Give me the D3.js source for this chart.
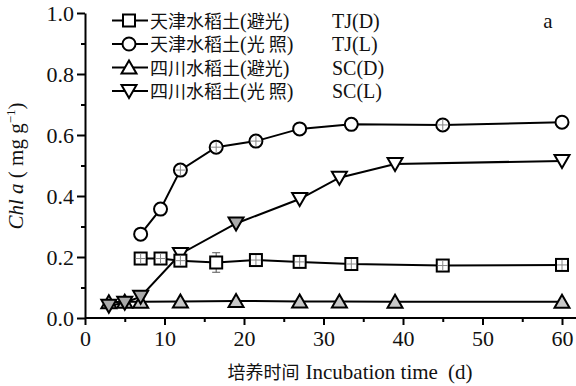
<!DOCTYPE html>
<html>
<head>
<meta charset="utf-8">
<script src="https://cdn.jsdelivr.net/npm/d3@7"></script>
<style>
  body { margin: 0; background: #fff; }
  svg { display: block; }
  text { font-family: "Liberation Serif", "DejaVu Serif", serif; }
</style>
</head>
<body>
<script>
// incubation days
var daysTJ = [7, 9.5, 12, 16.5, 21.5, 27, 33.5, 45, 60];
var daysSC = [3, 5, 7, 12, 19, 27, 32, 39, 60];

// Chl a (mg g-1)
var tjDark  = [0.195, 0.195, 0.188, 0.182, 0.19, 0.184, 0.177, 0.172, 0.174];
var tjLight = [0.275, 0.357, 0.485, 0.56, 0.58, 0.62, 0.635, 0.633, 0.642];
var scDark  = [0.052, 0.053, 0.053, 0.054, 0.056, 0.054, 0.054, 0.053, 0.053];
var scLight = [0.04, 0.05, 0.07, 0.21, 0.31, 0.39, 0.46, 0.505, 0.515];
var tjDarkErr = [0, 0, 0, 0.032, 0, 0, 0, 0, 0];

var legendCn = ["天津水稻土", "天津水稻土", "四川水稻土", "四川水稻土"];
var legendCond = ["避光", "光 照", "避光", "光 照"];
var legendAbbr = ["TJ(D)", "TJ(L)", "SC(D)", "SC(L)"];

var yTicks = [0, 0.2, 0.4, 0.6, 0.8, 1.0];
var yMinor = [0.1, 0.3, 0.5, 0.7, 0.9];
var xTicks = [0, 10, 20, 30, 40, 50, 60];
var xMinor = [5, 15, 25, 35, 45, 55];

var w = 576, h = 386;
var serif = "Liberation Serif, DejaVu Serif, serif";
var cjk = "Noto Sans CJK SC, sans-serif";

var svg = d3.select("body").append("svg")
  .attr("width", w)
  .attr("height", h);

var x = d3.scaleLinear().domain([0, 60]).range([85, 562]);
var y = d3.scaleLinear().domain([0, 1]).range([318, 13]);

// y axis
var yAxis = svg.append("g")
  .attr("transform", "translate(" + x(0) + ",0)")
  .call(d3.axisLeft(y).tickValues(yTicks).tickSize(8).tickSizeOuter(0).tickFormat(d3.format(".1f")));
svg.append("g")
  .attr("transform", "translate(" + x(0) + ",0)")
  .call(d3.axisLeft(y).tickValues(yMinor).tickSize(4).tickSizeOuter(0).tickFormat(""))
  .select(".domain").remove();

// x axis
var xAxis = svg.append("g")
  .attr("transform", "translate(0," + y(0) + ")")
  .call(d3.axisBottom(x).tickValues(xTicks).tickSize(7).tickSizeOuter(0).tickFormat(d3.format("d")));
xAxis.select(".domain").remove();
svg.append("g")
  .attr("transform", "translate(0," + y(0) + ")")
  .call(d3.axisBottom(x).tickValues(xMinor).tickSize(4).tickSizeOuter(0).tickFormat(""))
  .select(".domain").remove();
svg.append("line")
  .attr("x1", x(0)).attr("x2", w)
  .attr("y1", y(0)).attr("y2", y(0))
  .attr("stroke", "#000").attr("stroke-width", 2);

svg.selectAll("g").attr("font-family", serif);
svg.selectAll(".tick line").attr("stroke", "#000").attr("stroke-width", 2);
svg.selectAll(".domain").attr("stroke", "#000").attr("stroke-width", 2);
svg.selectAll(".tick text")
  .attr("font-family", serif)
  .attr("font-size", 22)
  .attr("fill", "#111");
yAxis.selectAll(".tick text").attr("x", -11);
xAxis.selectAll(".tick text").attr("y", 12);

// axis titles
var xTitle = svg.append("text")
  .attr("x", 350).attr("y", 379)
  .attr("text-anchor", "middle")
  .attr("font-family", serif)
  .attr("font-size", 21)
  .attr("fill", "#111");
xTitle.append("tspan").attr("font-family", cjk).attr("font-size", 18).text("培养时间");
xTitle.append("tspan").attr("dx", 6).text("Incubation time");
xTitle.append("tspan").attr("dx", 10).text("(d)");

var yTitle = svg.append("text")
  .attr("transform", "translate(23,166) rotate(-90)")
  .attr("text-anchor", "middle")
  .attr("font-family", serif)
  .attr("font-size", 21)
  .attr("fill", "#111");
yTitle.append("tspan").attr("font-style", "italic").text("Chl a");
yTitle.append("tspan").text(" ( mg g");
yTitle.append("tspan").attr("dy", -8).attr("font-size", 13).text("−1");
yTitle.append("tspan").attr("dy", 8).text(")");

svg.append("text")
  .attr("x", 548).attr("y", 28)
  .attr("text-anchor", "middle")
  .attr("font-family", serif)
  .attr("font-size", 21)
  .attr("fill", "#111")
  .text("a");

// marker drawing
function drawMarker(g, shape, cx, cy, fill, cross) {
  var m;
  if (shape === "square") {
    m = g.append("rect").attr("x", cx - 6).attr("y", cy - 6).attr("width", 12).attr("height", 12);
  } else if (shape === "circle") {
    m = g.append("circle").attr("cx", cx).attr("cy", cy).attr("r", 6.5);
  } else if (shape === "up") {
    m = g.append("path").attr("d", "M" + cx + "," + (cy - 7) + "L" + (cx + 7.5) + "," + (cy + 6) + "L" + (cx - 7.5) + "," + (cy + 6) + "Z");
  } else {
    m = g.append("path").attr("d", "M" + cx + "," + (cy + 7) + "L" + (cx + 7.5) + "," + (cy - 6) + "L" + (cx - 7.5) + "," + (cy - 6) + "Z");
  }
  m.attr("fill", fill).attr("stroke", "#000").attr("stroke-width", 2);
  if (cross) {
    g.append("line").attr("x1", cx - 5).attr("x2", cx + 5).attr("y1", cy).attr("y2", cy)
      .attr("stroke", "#888").attr("stroke-width", 1);
    g.append("line").attr("x1", cx).attr("x2", cx).attr("y1", cy - 5).attr("y2", cy + 5)
      .attr("stroke", "#888").attr("stroke-width", 1);
  }
}

var series = [
  {days: daysTJ, vals: tjDark, shape: "square"},
  {days: daysTJ, vals: tjLight, shape: "circle"},
  {days: daysSC, vals: scDark, shape: "up"},
  {days: daysSC, vals: scLight, shape: "down"}
];

var line = d3.line()
  .x(function(d){ return x(d[0]); })
  .y(function(d){ return y(d[1]); });

series.forEach(function(s){
  svg.append("path")
    .datum(d3.zip(s.days, s.vals))
    .attr("d", line)
    .attr("fill", "none")
    .attr("stroke", "#000")
    .attr("stroke-width", 2);
});

// error bar
tjDarkErr.forEach(function(e, i){
  if (e > 0) {
    var cx = x(daysTJ[i]);
    var g = svg.append("g").attr("stroke", "#555").attr("stroke-width", 1);
    g.append("line").attr("x1", cx).attr("x2", cx).attr("y1", y(tjDark[i] + e)).attr("y2", y(tjDark[i] - e));
    g.append("line").attr("x1", cx - 4).attr("x2", cx + 4).attr("y1", y(tjDark[i] + e)).attr("y2", y(tjDark[i] + e));
    g.append("line").attr("x1", cx - 4).attr("x2", cx + 4).attr("y1", y(tjDark[i] - e)).attr("y2", y(tjDark[i] - e));
  }
});

var markers = svg.append("g");
// draw SC first so TJ overlaps
[2, 3, 0, 1].forEach(function(k){
  var s = series[k];
  s.vals.forEach(function(v, i){
    var fill = "#fff", cross = false;
    if (s.shape === "square") cross = tjDarkErr[i] === 0;
    if (s.shape === "circle") cross = (i >= 2 && i <= 4) || i === 7;
    if (s.shape === "up") fill = "#c8c8c8";
    if (s.shape === "down" && i !== 3 && i < 5) fill = "#aaa";
    drawMarker(markers, s.shape, x(s.days[i]), y(v), fill, cross);
  });
});

// legend
var legY = [20.5, 44, 67.5, 91];
legY.forEach(function(ly, i){
  var g = svg.append("g");
  g.append("line").attr("x1", 112).attr("x2", 148).attr("y1", ly).attr("y2", ly)
    .attr("stroke", "#000").attr("stroke-width", 2);
  drawMarker(g, series[i].shape, 129, ly, "#fff", false);
  var t = g.append("text")
    .attr("x", 150).attr("y", ly + 7)
    .attr("font-family", serif)
    .attr("font-size", 20)
    .attr("fill", "#111");
  t.append("tspan").attr("font-family", cjk).attr("font-size", 18).text(legendCn[i]);
  t.append("tspan").text("(");
  t.append("tspan").attr("font-family", cjk).attr("font-size", 18).text(legendCond[i]);
  t.append("tspan").text(")");
  g.append("text")
    .attr("x", 332).attr("y", ly + 7)
    .attr("font-family", serif)
    .attr("font-size", 20)
    .attr("fill", "#111")
    .text(legendAbbr[i]);
});
</script>
</body>
</html>
